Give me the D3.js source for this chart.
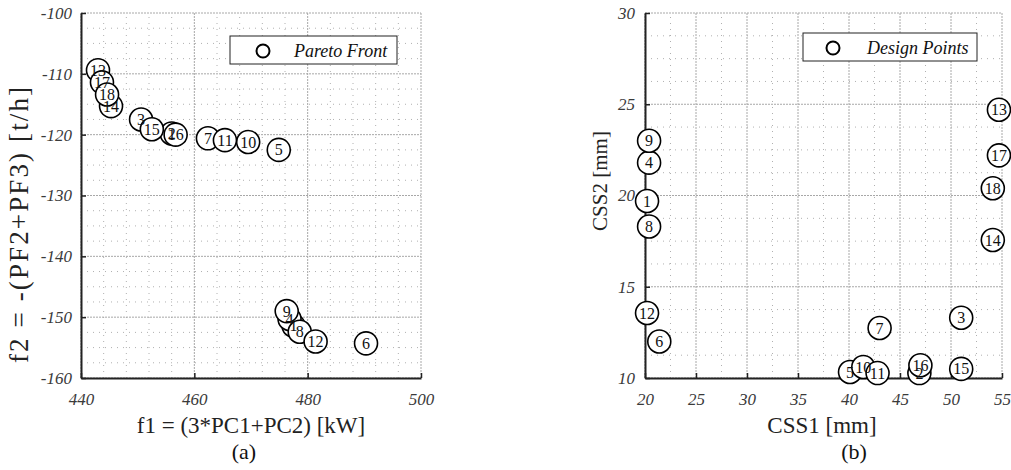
<!DOCTYPE html>
<html>
<head>
<meta charset="utf-8">
<script src="https://cdn.jsdelivr.net/npm/d3@7"></script>
<style>
  html, body { margin: 0; padding: 0; background: #fff; }
  svg { display: block; font-family: "Liberation Serif", "Times New Roman", serif; }
</style>
</head>
<body>
<div id="chart"></div>
<script>
// design point numbers and their values
const pointIds = [1, 2, 3, 4, 5, 6, 7, 8, 9, 10, 11, 12, 13, 14, 15, 16, 17, 18];
const f1Values = [477.5, 456.0, 450.6, 476.8, 474.9, 490.3, 462.4, 478.6, 476.3,
                  469.5, 465.4, 481.4, 443.0, 445.3, 452.5, 456.7, 443.7, 444.6];
const f2Values = [-151.4, -119.8, -117.5, -150.3, -122.5, -154.3, -120.6, -152.4, -149.0,
                  -121.2, -120.9, -154.0, -109.4, -115.3, -119.1, -120.0, -111.4, -113.4];
const css1Values = [20.2, 46.9, 51.0, 20.4, 40.1, 21.4, 43.0, 20.4, 20.4,
                    41.4, 42.8, 20.2, 54.7, 54.1, 51.0, 47.0, 54.7, 54.1];
const css2Values = [19.7, 10.27, 13.3, 21.8, 10.33, 12.0, 12.74, 18.3, 23.0,
                    10.6, 10.27, 13.56, 24.7, 17.56, 10.5, 10.7, 22.2, 20.4];

// tick labels
const f1Ticks = [440, 460, 480, 500];
const f2Ticks = [-160, -150, -140, -130, -120, -110, -100];
const css1Ticks = [20, 25, 30, 35, 40, 45, 50, 55];
const css2Ticks = [10, 15, 20, 25, 30];

const W = 1011, H = 470;
const svg = d3.select("#chart").append("svg").attr("width", W).attr("height", H);

/*******************************************************************
 * one panel
 *******************************************************************/
function panel(cfg) {
  const { x, y, xTicks, yTicks, xMinor, yMinor } = cfg;
  const g = svg.append("g");
  const [x0, x1] = x.range();
  const [y0, y1] = y.range();

  // minor grid
  const minorX = d3.range(x.domain()[0], x.domain()[1] + 1e-9, xMinor).filter(v => !xTicks.includes(+v.toFixed(4)));
  const minorY = d3.range(y.domain()[0], y.domain()[1] + 1e-9, yMinor).filter(v => !yTicks.includes(+v.toFixed(4)));
  g.selectAll("line.mx").data(minorX).join("line")
    .attr("x1", d => x(d)).attr("x2", d => x(d)).attr("y1", y0).attr("y2", y1)
    .attr("stroke", "#b0b0b0").attr("stroke-dasharray", "1,5");
  g.selectAll("line.my").data(minorY).join("line")
    .attr("y1", d => y(d)).attr("y2", d => y(d)).attr("x1", x0).attr("x2", x1)
    .attr("stroke", "#b0b0b0").attr("stroke-dasharray", "1,5");

  // major grid
  g.selectAll("line.gx").data(xTicks).join("line")
    .attr("x1", d => x(d)).attr("x2", d => x(d)).attr("y1", y0).attr("y2", y1)
    .attr("stroke", "#a8a8a8").attr("stroke-dasharray", "2,1");
  g.selectAll("line.gy").data(yTicks).join("line")
    .attr("y1", d => y(d)).attr("y2", d => y(d)).attr("x1", x0).attr("x2", x1)
    .attr("stroke", "#a8a8a8").attr("stroke-dasharray", "2,1");

  // axes (inward ticks, only left + bottom)
  const ax = g.append("g").attr("transform", `translate(0,${y0})`)
    .call(d3.axisBottom(x).tickValues(xTicks).tickSizeInner(-5).tickSizeOuter(0)
      .tickPadding(15).tickFormat(d => String(d)));
  const ay = g.append("g").attr("transform", `translate(${x0},0)`)
    .call(d3.axisLeft(y).tickValues(yTicks).tickSizeInner(-5).tickSizeOuter(0)
      .tickPadding(cfg.yPad).tickFormat(d => String(d)));
  [ax, ay].forEach(a => {
    a.attr("font-family", null);
    a.select(".domain").attr("stroke", "#222").attr("stroke-width", 2);
    a.selectAll(".tick line").attr("stroke", "#222").attr("stroke-width", 1.5);
    a.selectAll(".tick text").attr("fill", "#3a3a3a").style("font-size", "17px")
      .style("font-style", "italic");
  });

  // axis titles + caption
  g.append("text").attr("x", cfg.xTitleX).attr("y", 433).attr("text-anchor", "middle")
    .style("font-size", "23px").attr("fill", "#222").text(cfg.xTitle);
  g.append("text").attr("x", cfg.capX).attr("y", 459).attr("text-anchor", "middle")
    .style("font-size", "22px").attr("fill", "#111").text(cfg.caption);
  const yt = g.append("text")
    .attr("transform", `translate(${cfg.yTitleX},${cfg.yTitleY}) rotate(-90)`)
    .attr("text-anchor", "middle").style("font-size", cfg.yTitleSize + "px").attr("fill", "#222")
    .text(cfg.yTitle);
  if (cfg.yTitleLen) yt.attr("textLength", cfg.yTitleLen).attr("lengthAdjust", "spacing");

  // legend
  const lg = g.append("g").attr("transform", `translate(${cfg.leg[0]},${cfg.leg[1]})`);
  lg.append("rect").attr("width", cfg.leg[2]).attr("height", 28)
    .attr("fill", "#fff").attr("stroke", "#222").attr("stroke-width", 1);
  lg.append("circle").attr("cx", cfg.leg[3]).attr("cy", 15).attr("r", 6.5)
    .attr("fill", "none").attr("stroke", "#000").attr("stroke-width", 2);
  lg.append("text").attr("x", cfg.leg[4]).attr("y", 21).style("font-size", "18px")
    .style("font-style", "italic").attr("fill", "#111").text(cfg.legText);

  // numbered points: all circles first, then all numbers on top
  const pts = pointIds.map((id, i) => ({ id, vx: cfg.xs[i], vy: cfg.ys[i] }));
  g.selectAll("circle.pt").data(pts).join("circle").attr("class", "pt")
    .attr("cx", d => x(d.vx)).attr("cy", d => y(d.vy)).attr("r", 11.5)
    .attr("fill", "#fff").attr("stroke", "#000").attr("stroke-width", 1.6);
  g.selectAll("text.pt").data(pts).join("text").attr("class", "pt")
    .attr("x", d => x(d.vx)).attr("y", d => y(d.vy))
    .attr("text-anchor", "middle").attr("dy", "0.35em")
    .style("font-size", "16px").attr("fill", "#111").text(d => d.id);
}

panel({
  x: d3.scaleLinear().domain([440, 500]).range([81, 421]),
  y: d3.scaleLinear().domain([-160, -100]).range([378, 13]),
  xTicks: f1Ticks, yTicks: f2Ticks, xMinor: 4, yMinor: 2.5, yPad: 9,
  xs: f1Values, ys: f2Values,
  xTitle: "f1 = (3*PC1+PC2) [kW]", xTitleX: 251, caption: "(a)", capX: 244,
  yTitle: "f2 = -(PF2+PF3) [t/h]", yTitleX: 28, yTitleY: 225, yTitleSize: 27, yTitleLen: 276,
  leg: [230, 36, 167, 33, 64], legText: "Pareto Front"
});

panel({
  x: d3.scaleLinear().domain([20, 55]).range([645, 1002]),
  y: d3.scaleLinear().domain([10, 30]).range([378, 13]),
  xTicks: css1Ticks, yTicks: css2Ticks, xMinor: 2.5, yMinor: 1.25, yPad: 10,
  xs: css1Values, ys: css2Values,
  xTitle: "CSS1 [mm]", xTitleX: 822, caption: "(b)", capX: 854,
  yTitle: "CSS2 [mm]", yTitleX: 607, yTitleY: 181, yTitleSize: 21,
  leg: [803, 33, 174, 30, 64], legText: "Design Points"
});
</script>
</body>
</html>
